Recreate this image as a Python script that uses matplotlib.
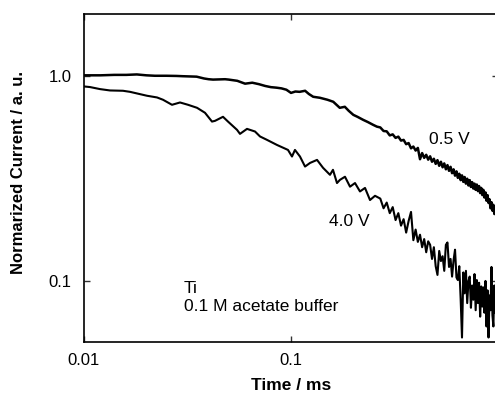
import matplotlib
matplotlib.use("Agg")
import matplotlib.pyplot as plt
from matplotlib.ticker import FixedLocator, FixedFormatter, NullLocator

plt.rcParams["font.family"] = ["Liberation Sans", "DejaVu Sans"]

# time in ms, normalized current (a. u.)
t_05 = [0.010, 0.012, 0.014, 0.016, 0.018, 0.020, 0.022, 0.025, 0.028, 0.030,
        0.035, 0.038, 0.040, 0.042, 0.045, 0.048, 0.050, 0.055, 0.060, 0.065,
        0.070, 0.075, 0.080, 0.085, 0.090, 0.095, 0.100, 0.105, 0.110, 0.117,
        0.122, 0.128, 0.138, 0.150, 0.160, 0.172, 0.182, 0.190, 0.200, 0.210,
        0.223, 0.235, 0.249, 0.260,
        0.27, 0.28, 0.29, 0.30, 0.31, 0.32, 0.33, 0.34, 0.35, 0.36,
        0.37, 0.38, 0.39, 0.40, 0.41, 0.42, 0.43, 0.44, 0.45, 0.46,
        0.47, 0.48, 0.49, 0.50, 0.51, 0.52, 0.53, 0.54, 0.55, 0.56,
        0.57, 0.58, 0.59, 0.60, 0.61, 0.62, 0.63, 0.64, 0.65, 0.66,
        0.67, 0.68, 0.69, 0.70, 0.71, 0.72, 0.73, 0.74, 0.75, 0.76,
        0.77, 0.78, 0.79, 0.80, 0.81, 0.82, 0.83, 0.84, 0.85, 0.86,
        0.87, 0.88, 0.89, 0.90, 0.91, 0.92, 0.93, 0.94, 0.95, 0.96,
        0.97, 0.98, 0.99, 1.00]
i_05 = [1.005, 1.005, 1.010, 1.010, 1.015, 1.005, 1.000, 1.000, 0.998, 0.995,
        0.990, 0.970, 0.962, 0.958, 0.960, 0.962, 0.958, 0.945, 0.915, 0.925,
        0.910, 0.892, 0.880, 0.875, 0.868, 0.855, 0.825, 0.838, 0.835, 0.845,
        0.815, 0.790, 0.781, 0.764, 0.747, 0.698, 0.706, 0.675, 0.645, 0.630,
        0.610, 0.595, 0.577, 0.565,
        0.560, 0.538, 0.536, 0.512, 0.518, 0.498, 0.505, 0.483, 0.487, 0.464,
        0.470, 0.443, 0.452, 0.432, 0.445, 0.392, 0.420, 0.398, 0.412, 0.390,
        0.405, 0.381, 0.394, 0.372, 0.388, 0.364, 0.381, 0.358, 0.374, 0.350,
        0.367, 0.344, 0.360, 0.335, 0.350, 0.326, 0.342, 0.318, 0.333, 0.310,
        0.327, 0.304, 0.321, 0.298, 0.315, 0.292, 0.310, 0.287, 0.303, 0.282,
        0.298, 0.278, 0.295, 0.274, 0.290, 0.268, 0.284, 0.262, 0.278, 0.255,
        0.270, 0.246, 0.262, 0.240, 0.250, 0.226, 0.242, 0.220, 0.235, 0.212,
        0.226, 0.208, 0.220, 0.210]

t_40 = [0.0100, 0.01069, 0.01195, 0.01335, 0.01543, 0.01668, 0.01803, 0.02016,
        0.02253, 0.02408, 0.02661, 0.0291, 0.03181, 0.03516, 0.03842, 0.04153,
        0.04295, 0.04694, 0.04962, 0.05486, 0.0567, 0.0613, 0.067, 0.07085,
        0.07658, 0.08558, 0.09672, 0.1011, 0.1045, 0.1105, 0.1169, 0.1236,
        0.1336, 0.1428, 0.1543, 0.1595, 0.1668, 0.1724, 0.1823, 0.1928,
        0.2038, 0.2154, 0.2278, 0.2408, 0.2546,
        0.27, 0.28, 0.29, 0.30, 0.31, 0.32, 0.33, 0.34, 0.35, 0.36,
        0.37, 0.38, 0.39, 0.40, 0.41, 0.42, 0.43, 0.44, 0.45, 0.46,
        0.47, 0.48, 0.49, 0.50, 0.51, 0.52, 0.53, 0.54, 0.55, 0.56,
        0.57, 0.58, 0.59, 0.60, 0.61, 0.62, 0.63, 0.64, 0.65, 0.66,
        0.67, 0.68, 0.69, 0.70, 0.71, 0.72, 0.73, 0.74, 0.75, 0.76,
        0.77, 0.78, 0.79, 0.80, 0.81, 0.82, 0.83, 0.84, 0.85, 0.86,
        0.87, 0.88, 0.89, 0.90, 0.91, 0.92, 0.93, 0.94, 0.95, 0.96,
        0.97, 0.98, 0.99, 1.00]
i_40 = [0.887, 0.881, 0.861, 0.848, 0.845, 0.835, 0.820, 0.799,
        0.784, 0.764, 0.722, 0.741, 0.722, 0.698, 0.660, 0.598,
        0.603, 0.631, 0.598, 0.545, 0.521, 0.551, 0.535, 0.506,
        0.487, 0.460, 0.435, 0.404, 0.435, 0.404, 0.361, 0.376,
        0.389, 0.356, 0.329, 0.348, 0.300, 0.311, 0.322, 0.288,
        0.300, 0.273, 0.284, 0.248, 0.260,
        0.252, 0.226, 0.241, 0.214, 0.229, 0.198, 0.214, 0.186, 0.200, 0.172,
        0.196, 0.217, 0.158, 0.178, 0.155, 0.168, 0.146, 0.160, 0.138, 0.156,
        0.150, 0.128, 0.146, 0.118, 0.107, 0.140, 0.125, 0.132, 0.112, 0.150,
        0.154, 0.117, 0.128, 0.105, 0.126, 0.142, 0.104, 0.101, 0.118, 0.082,
        0.053, 0.110, 0.087, 0.112, 0.078, 0.100, 0.105, 0.074, 0.095, 0.081,
        0.108, 0.072, 0.101, 0.078, 0.098, 0.067, 0.094, 0.075, 0.093, 0.070,
        0.100, 0.060, 0.090, 0.053, 0.085, 0.072, 0.117, 0.068, 0.060, 0.095,
        0.070, 0.104, 0.064, 0.085]

x_ticks = [0.01, 0.1, 1]
x_labels = ["0.01", "0.1", "1"]
y_ticks = [0.1, 1.0]
y_labels = ["0.1", "1.0"]

fig = plt.figure(figsize=(4.95, 3.94), dpi=100)
# axes run past the right edge of the figure, as in the original
ax = fig.add_axes([84 / 495, 52 / 394, 414 / 495, 328 / 394])

ax.plot(t_05, i_05, color="black", linewidth=1.8)
ax.plot(t_40, i_40, color="black", linewidth=1.5)

ax.set_xscale("log")
ax.set_yscale("log")
ax.set_xlim(0.01, 1)
ax.set_ylim(0.0504, 2.0)

ax.xaxis.set_major_locator(FixedLocator(x_ticks))
ax.xaxis.set_major_formatter(FixedFormatter(x_labels))
ax.yaxis.set_major_locator(FixedLocator(y_ticks))
ax.yaxis.set_major_formatter(FixedFormatter(y_labels))
ax.xaxis.set_minor_locator(NullLocator())
ax.yaxis.set_minor_locator(NullLocator())
ax.tick_params(which="both", direction="in", top=True, right=True,
               length=4, width=1, labelsize=12, color="#333333")
ax.tick_params(axis="x", pad=8)
ax.tick_params(axis="y", pad=9)
for s in ax.spines.values():
    s.set_linewidth(1.2)

ax.set_xlabel("Time / ms", fontsize=12.5, fontweight="bold")
ax.set_ylabel("Normarized Current / a. u.", fontsize=12, fontweight="bold")
ax.xaxis.set_label_coords((291 - 84) / 414, -(386 - 342) / 328)
ax.yaxis.set_label_coords(-(84 - 19) / 414, (342 - 173) / 328)
ax.xaxis.label.set_va("center")
ax.yaxis.label.set_va("center")

ax.text(0.465, 0.487, "0.5 V", fontsize=12.5, ha="left", va="center")
ax.text(0.152, 0.194, "4.0 V", fontsize=12.5, ha="left", va="center")
ax.text(0.0304, 0.0914, "Ti", fontsize=12.5, ha="left", va="center")
ax.text(0.0304, 0.0747, "0.1 M acetate buffer", fontsize=12.5, ha="left", va="center")

fig.savefig("out.png", dpi=100)
